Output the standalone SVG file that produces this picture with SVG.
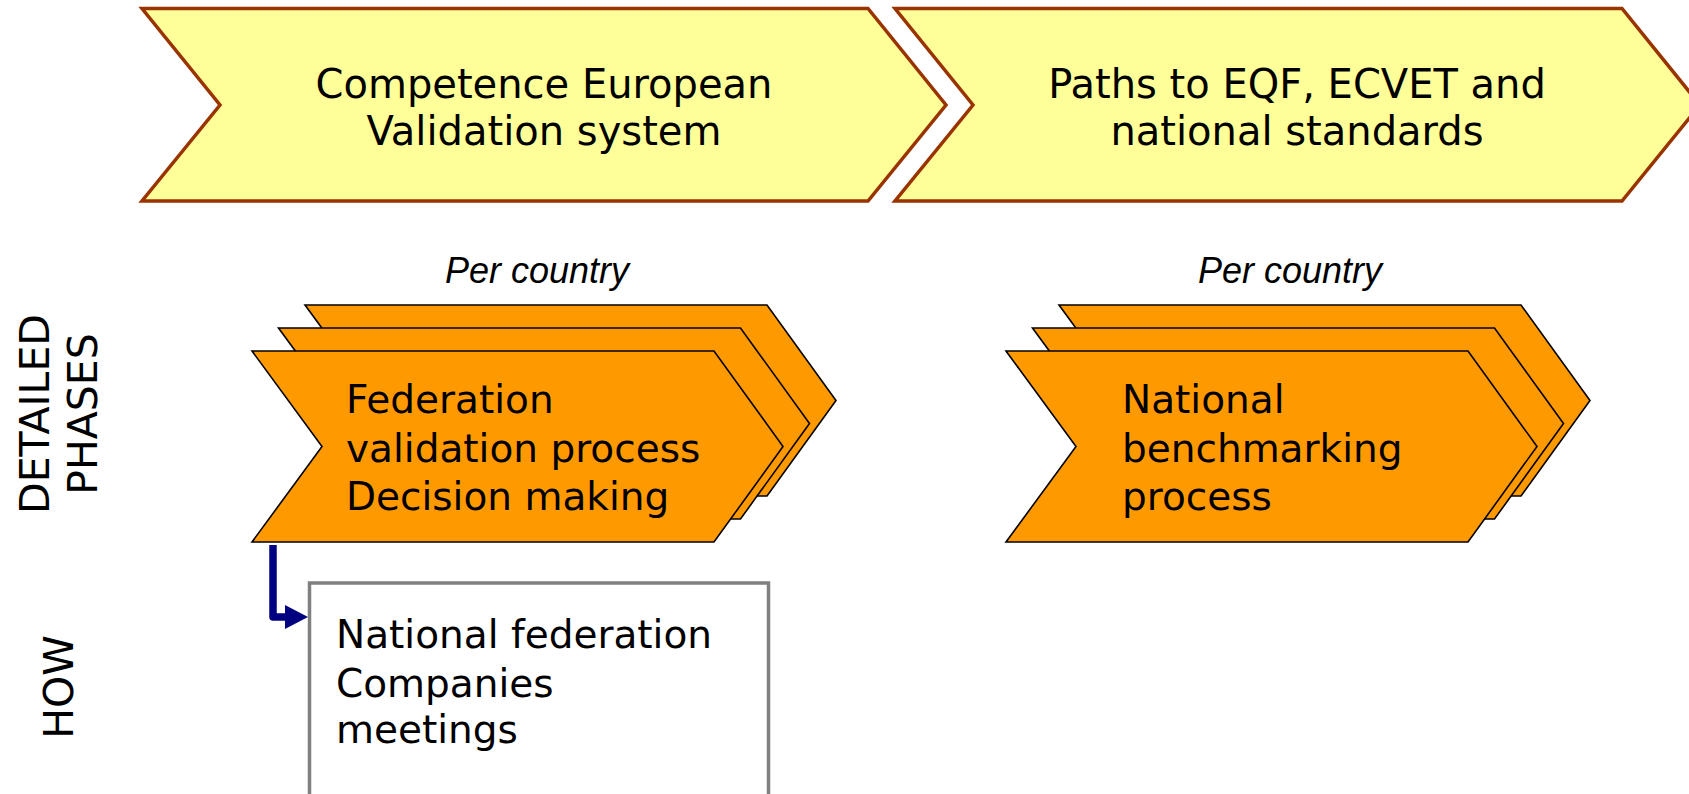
<svg xmlns="http://www.w3.org/2000/svg" width="1689" height="794" viewBox="0 0 1689 794">
<style>
.top{fill:#FFFF99;stroke:#993300;stroke-width:3.5;stroke-linejoin:miter}
.ph{fill:#FF9900;stroke:#000000;stroke-width:1.6;stroke-linejoin:miter}
.t{font-family:"DejaVu Sans","Verdana",sans-serif;font-size:39px;fill:#000}
.tc{font-family:"DejaVu Sans","Verdana",sans-serif;font-size:40px;fill:#000;text-anchor:middle}
.it{font-family:"Liberation Sans",Arial,sans-serif;font-size:36px;font-style:italic;fill:#000;text-anchor:middle}
.lab{font-family:"DejaVu Sans","Verdana",sans-serif;font-size:41px;fill:#000;text-anchor:middle}
</style>
<defs>
<polygon id="chev" points="0,0 462,0 531,95.5 462,191 0,191 70,95.5"/>
</defs>
<rect width="1689" height="794" fill="#FFFFFF"/>

<g id="top1">
<polygon class="top" points="142,8.5 868,8.5 946,105 868,201 142,201 220,105"/>
<text class="tc" x="544" y="98">Competence European</text>
<text class="tc" x="544" y="145">Validation system</text>
</g>
<g id="top2">
<polygon class="top" points="895,8.5 1622,8.5 1700,105 1622,201 895,201 973,105"/>
<text class="tc" x="1297" y="98">Paths to EQF, ECVET and</text>
<text class="tc" x="1297" y="145">national standards</text>
</g>

<g id="label-per-country-1"><text class="it" x="537" y="283">Per country</text></g>
<g id="label-per-country-2"><text class="it" x="1290" y="283">Per country</text></g>

<g id="labels">
<text class="lab" transform="translate(49,414) rotate(-90)">DETAILED</text>
<text class="lab" transform="translate(97,414) rotate(-90)">PHASES</text>
<text class="lab" transform="translate(73,687) rotate(-90)">HOW</text>
</g>

<g id="phase1">
<use href="#chev" class="ph" transform="translate(305,305)"/>
<use href="#chev" class="ph" transform="translate(278.5,328)"/>
<use href="#chev" class="ph" transform="translate(252,351)"/>
<text class="t" x="346" y="413">Federation</text>
<text class="t" x="346" y="462">validation process</text>
<text class="t" x="346" y="510">Decision making</text>
</g>

<g id="phase2">
<use href="#chev" class="ph" transform="translate(1059,305)"/>
<use href="#chev" class="ph" transform="translate(1032.5,328)"/>
<use href="#chev" class="ph" transform="translate(1006,351)"/>
<text class="t" x="1122" y="413">National</text>
<text class="t" x="1122" y="462">benchmarking</text>
<text class="t" x="1122" y="510">process</text>
</g>

<g id="how-box">
<rect x="309.5" y="583" width="459" height="240" fill="#FFFFFF" stroke="#808080" stroke-width="3.5"/>
<text class="t" x="336" y="648">National federation</text>
<text class="t" x="336" y="697">Companies</text>
<text class="t" x="336" y="743">meetings</text>
</g>

<g id="connectors">
<path d="M273,545 V617 H287" fill="none" stroke="#000080" stroke-width="7.5" stroke-linejoin="round"/>
<polygon points="285,605 308,617 285,629" fill="#000080"/>
</g>
</svg>
